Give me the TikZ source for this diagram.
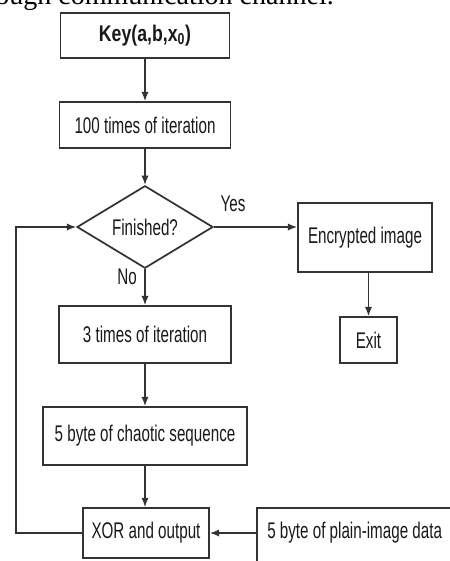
\documentclass[tikz,border=0pt]{standalone}
\usepackage{fontspec}
\setmainfont{Liberation Serif}
\newfontfamily\dfont[FakeStretch=0.67]{Liberation Sans}
\newfontfamily\kfont[FakeStretch=0.78]{Liberation Sans}
\usetikzlibrary{shapes.geometric,arrows.meta,calc}
\begin{document}
\begin{tikzpicture}[x=0.75pt,y=-0.75pt,
  sz/.style 2 args={minimum width=#1*0.75pt,minimum height=#2*0.75pt},
  ln/.style={draw=black!80,line width=1.3pt},
  tf/.style={font=\dfont\fontsize{17}{20}\selectfont,text=black!90},
  box/.style={ln,rectangle,inner sep=0pt,tf},
  dec/.style={ln,diamond,inner sep=0pt,tf},
  arr/.style={draw=black!80,line width=1.1pt,-{Latex[length=7pt,width=5.5pt]}},
  lbl/.style={tf,inner sep=0pt}]
\path[use as bounding box] (0,0) rectangle (450,561);
\clip (0,0) rectangle (450,561);

\node[font=\fontsize{21}{24}\selectfont,anchor=base east,inner sep=0pt] (top) at (334,4) {through communication channel.};

\node[box,sz={169}{45},font=\kfont\bfseries\fontsize{17}{20}\selectfont] (key) at (145,35.5) {Key(a,b,x\textsubscript{0})};
\node[box,sz={171}{46}] (it100) at (145,125) {100 times of iteration};
\node[dec,sz={136}{68}] (fin) at (145,227) {Finished?};
\node[box,sz={134}{69}] (enc) at (365,237.5) {Encrypted image};
\node[box,sz={57}{46}] (exit) at (368.5,340) {Exit};
\node[box,sz={172}{57}] (it3) at (145,334.5) {3 times of iteration};
\node[box,sz={204}{58}] (cha) at (145,436) {5 byte of chaotic sequence};
\node[box,sz={126}{50}] (xor) at (146,533) {XOR and output};
\node[lbl,anchor=west] (plain) at (267,533) {5 byte of plain-image data};
\draw[ln] (257,580) -- (257,508) -- (470,508);
\coordinate (pw) at (257,533);
\coordinate (fb) at (16,0);

\node[lbl] (yes) at (233,204) {Yes};
\node[lbl] (no) at (127,277) {No};

\draw[arr] (key.south) -- (it100.north);
\draw[arr] (it100.south) -- (fin.north);
\draw[arr] (fin.east) -- (fin.east -| enc.west);
\draw[arr] (exit.north |- enc.south) -- (exit.north);
\draw[arr] (fin.south) -- (it3.north);
\draw[arr] (it3.south) -- (cha.north);
\draw[arr] (cha.south) -- (cha.south |- xor.north);
\draw[arr] (pw) -- (xor.east);
\draw[arr] (xor.west) -- (xor.west -| fb) |- (fin.west);
\end{tikzpicture}
\end{document}
